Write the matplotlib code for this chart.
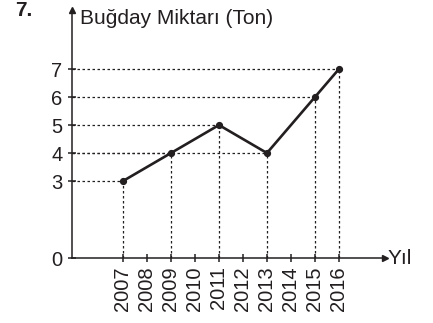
import numpy as np
import matplotlib.pyplot as plt

plt.rcParams['font.family'] = ['Liberation Sans', 'DejaVu Sans']

# years shown on the axis and the measured points
years = [2007, 2008, 2009, 2010, 2011, 2012, 2013, 2014, 2015, 2016]
point_years = [2007, 2009, 2011, 2013, 2015, 2016]
wheat_tons = [3, 4, 5, 4, 6, 7]
y_ticks = [0, 3, 4, 5, 6, 7]

ink = '#231f20'

# the gap between 0 and 3 is drawn a bit shorter than the other steps
def fwd(v):
    v = np.asarray(v, dtype=float)
    return np.where(v < 3, 0.25 + v * 2.75 / 3, v)

def inv(s):
    s = np.asarray(s, dtype=float)
    return np.where(s < 3, (s - 0.25) * 3 / 2.75, s)

fig = plt.figure(figsize=(4.33, 3.23), dpi=100)
ax = fig.add_axes([72 / 433, 65 / 323, 313 / 433, 248 / 323])
ax.set_yscale('function', functions=(fwd, inv))
ax.set_xlim(2004.875, 2017.92)
ax.set_ylim(0, 9.11)

# dotted guides from each point to both axes
ax.hlines(wheat_tons, 2004.875, point_years, colors=ink,
          linestyles=(0, (2, 2)), linewidth=0.9)
ax.vlines(point_years, 0, wheat_tons, colors=ink,
          linestyles=(0, (2, 2)), linewidth=0.9)

ax.plot(point_years, wheat_tons, color=ink, linewidth=1.9,
        marker='o', markersize=4.2, zorder=3)

for side in ['top', 'right']:
    ax.spines[side].set_visible(False)
for side in ['left', 'bottom']:
    ax.spines[side].set_linewidth(1.1)
    ax.spines[side].set_color(ink)

# arrow heads at the ends of the axes
ax.plot(1, 0, '>', color=ink, markersize=5, transform=ax.transAxes, clip_on=False)
ax.plot(0, 1, '^', color=ink, markersize=5, transform=ax.transAxes, clip_on=False)

ax.set_xticks(years)
ax.set_xticklabels([str(y) for y in years], rotation=90, fontsize=14.5, color=ink)
ax.set_yticks(y_ticks)
ax.set_yticklabels([str(v) for v in y_ticks], fontsize=14.5, color=ink)
ax.tick_params(axis='both', direction='inout', length=6, width=1.1, color=ink)
ax.tick_params(axis='x', pad=3)
ax.tick_params(axis='y', pad=4)
ax.minorticks_off()

fig.text(80 / 433, 1 - 18 / 323, 'Buğday Miktarı (Ton)', fontsize=15,
         va='center', ha='left', color=ink)
fig.text(388 / 433, 1 - 259 / 323, 'Yıl', fontsize=15,
         va='center', ha='left', color=ink)
fig.text(15 / 433, 1 - 11 / 323, '7.', fontsize=15, fontweight='bold',
         va='center', ha='left', color=ink)

fig.savefig('out.png', dpi=100)
